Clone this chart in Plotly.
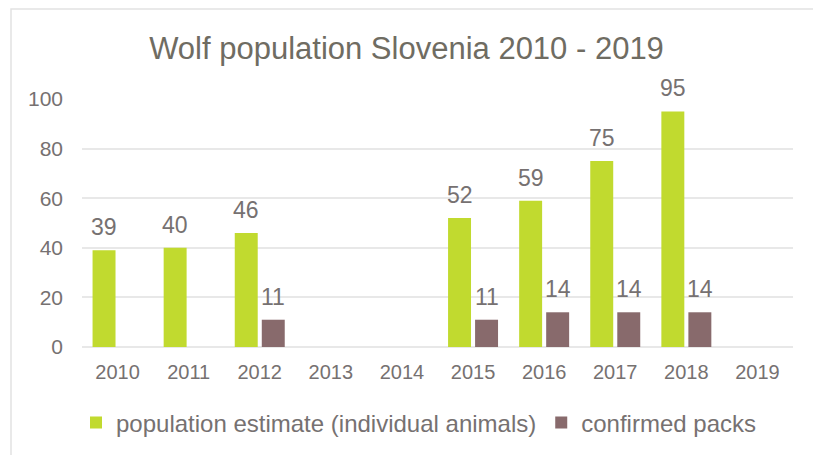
import plotly.graph_objects as go

years = ["2010", "2011", "2012", "2013", "2014", "2015", "2016", "2017", "2018", "2019"]
population = [39, 40, 46, None, None, 52, 59, 75, 95, None]
packs = [None, None, 11, None, None, 11, 14, 14, 14, None]

text_color = "#767171"
font_family = "Liberation Sans, Arial, sans-serif"

fig = go.Figure()
fig.add_trace(go.Bar(
    x=years, y=population, name="population estimate (individual animals)",
    marker=dict(color="#c1da2f", line=dict(width=0)),
))
fig.add_trace(go.Bar(
    x=years, y=packs, name="confirmed packs",
    marker=dict(color="#886a6c", line=dict(width=0)),
))

annotations = []
for series, shift in ((population, -13.5), (packs, 13.5)):
    for idx, v in enumerate(series):
        if v is None:
            continue
        annotations.append(dict(
            x=idx, y=v, xref="x", yref="y", text=str(v), showarrow=False,
            xanchor="center", yanchor="bottom", xshift=shift, yshift=8,
            font=dict(size=23, color=text_color, family=font_family),
        ))

fig.update_layout(
    width=813, height=455,
    margin=dict(l=82, r=20, t=99, b=108),
    paper_bgcolor="white", plot_bgcolor="white",
    font=dict(family=font_family, color=text_color),
    title=dict(text="Wolf population Slovenia 2010 - 2019", x=0.5, xref="container",
               xanchor="center", y=1 - 48 / 455, yref="container", yanchor="middle",
               font=dict(size=31, color="#6f6c62", family=font_family)),
    bargap=0.24, bargroupgap=0.15,
    barmode="group",
    showlegend=True,
    legend=dict(orientation="h", x=0.5 + 12 / 813, xref="container", xanchor="center",
                y=1 - 423 / 455, yref="container", yanchor="middle",
                font=dict(size=24, color=text_color, family=font_family),
                traceorder="normal", itemwidth=30),
    xaxis=dict(type="category", range=[-0.5, len(years) - 0.5], showgrid=False,
               showline=False, ticks="",
               tickfont=dict(size=20, color=text_color), ticklabelstandoff=11),
    yaxis=dict(range=[0, 100], dtick=20, showgrid=True, gridcolor="#e8e8e8", gridwidth=1.5,
               zeroline=True, zerolinecolor="#e8e8e8", zerolinewidth=1.5,
               showline=False, ticks="", tickfont=dict(size=21, color=text_color),
               ticklabelstandoff=18),
    annotations=annotations,
    shapes=[dict(type="rect", xref="paper", yref="paper",
                 x0=(11 - 82) / 711, x1=1.2, y0=-0.6, y1=(347 - 9) / 248,
                 line=dict(color="#e2e2e2", width=1.5), fillcolor="rgba(0,0,0,0)",
                 layer="below")],
)

fig.write_html("out.html")
